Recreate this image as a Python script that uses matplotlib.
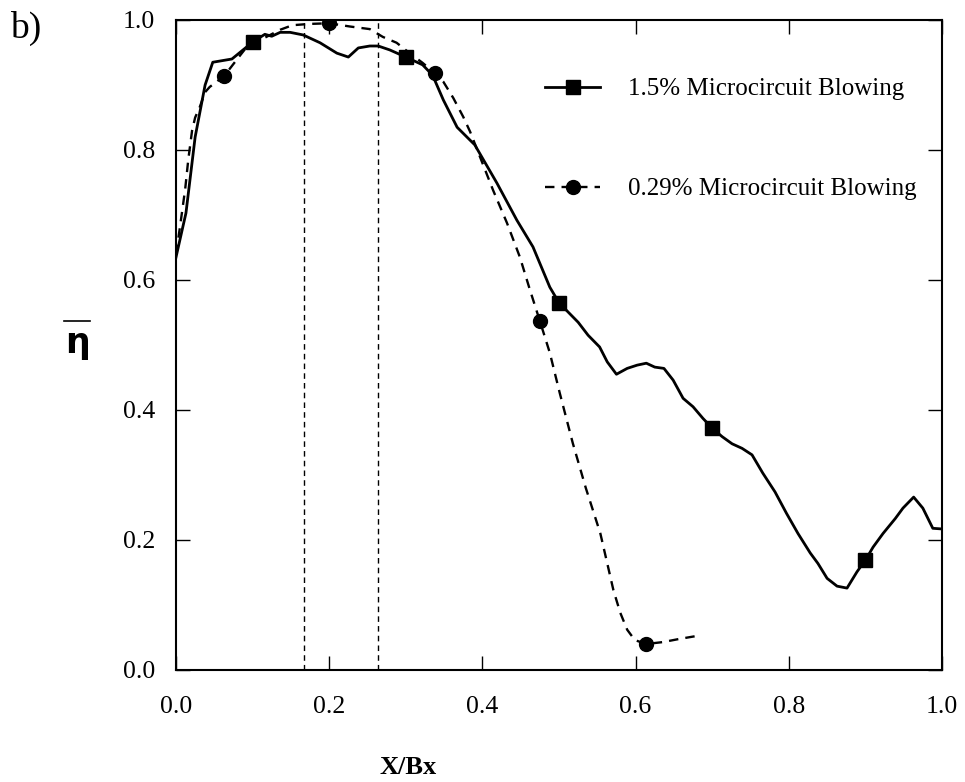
import numpy as np
import matplotlib.pyplot as plt
from matplotlib.lines import Line2D

# film effectiveness vs X/Bx, two blowing ratios
x_high = [0.0, 0.013, 0.025, 0.038, 0.048, 0.073, 0.10, 0.116, 0.125, 0.136, 0.149, 0.166,
          0.188, 0.21, 0.225, 0.238, 0.253, 0.264, 0.279, 0.30, 0.322, 0.335, 0.349, 0.367,
          0.384, 0.39, 0.419, 0.445, 0.466, 0.488, 0.50, 0.525, 0.538, 0.553, 0.563, 0.575,
          0.589, 0.602, 0.614, 0.625, 0.637, 0.649, 0.662, 0.675, 0.688, 0.701, 0.713, 0.726,
          0.739, 0.752, 0.766, 0.782, 0.797, 0.812, 0.828, 0.838, 0.85, 0.863, 0.876, 0.889,
          0.901, 0.91, 0.923, 0.939, 0.949, 0.963, 0.975, 0.988, 1.0]
eta_high = [0.635, 0.703, 0.82, 0.90, 0.935, 0.94, 0.966, 0.978, 0.975, 0.981, 0.981, 0.977,
            0.965, 0.949, 0.943, 0.957, 0.96, 0.96, 0.954, 0.943, 0.931, 0.915, 0.877, 0.835,
            0.815, 0.808, 0.749, 0.692, 0.651, 0.589, 0.565, 0.535, 0.515, 0.497, 0.474, 0.455,
            0.464, 0.469, 0.472, 0.466, 0.464, 0.446, 0.418, 0.405, 0.387, 0.371, 0.359, 0.348,
            0.341, 0.331, 0.303, 0.274, 0.241, 0.21, 0.18, 0.164, 0.141, 0.129, 0.126, 0.151,
            0.171, 0.189, 0.21, 0.233, 0.249, 0.266, 0.249, 0.218, 0.217]

x_low = [0.0, 0.005, 0.012, 0.016, 0.021, 0.025, 0.031, 0.038, 0.044, 0.063, 0.08, 0.092,
         0.118, 0.136, 0.152, 0.175, 0.20, 0.227, 0.253, 0.27, 0.288, 0.305, 0.322, 0.338,
         0.349, 0.362, 0.375, 0.384, 0.397, 0.414, 0.432, 0.449, 0.462, 0.475, 0.488, 0.501,
         0.518, 0.535, 0.554, 0.563, 0.571, 0.58, 0.589, 0.599, 0.614, 0.636, 0.658, 0.678]
eta_low = [0.64, 0.68, 0.74, 0.785, 0.83, 0.85, 0.866, 0.889, 0.897, 0.914, 0.94, 0.958,
           0.974, 0.985, 0.992, 0.994, 0.995, 0.99, 0.986, 0.974, 0.965, 0.949, 0.934, 0.918,
           0.905, 0.88, 0.851, 0.828, 0.789, 0.738, 0.688, 0.635, 0.585, 0.537, 0.488, 0.426,
           0.349, 0.28, 0.21, 0.164, 0.123, 0.088, 0.062, 0.046, 0.04, 0.043, 0.048, 0.052]

# marker locations along each curve
x_high_mk = [0.10, 0.30, 0.50, 0.70, 0.90]
x_low_mk = [0.063, 0.20, 0.338, 0.475, 0.614]

# bounds of the marked region
x_bounds = [0.167, 0.264]

label_high = "1.5% Microcircuit Blowing"
label_low = "0.29% Microcircuit Blowing"

plt.rcParams['font.family'] = ['Liberation Serif', 'DejaVu Serif']

fig = plt.figure(figsize=(9.65, 7.82), dpi=100)
ax = fig.add_axes([176 / 965, 1 - 670 / 782, 766 / 965, 650 / 782])

ax.plot(x_high, eta_high, color='black', lw=2.0, ls='-')
ax.plot(x_high_mk, np.interp(x_high_mk, x_high, eta_high), ls='none',
        marker='s', ms=10, color='black')
ax.plot(x_low, eta_low, color='black', lw=1.7, ls=(0, (4, 3)))
ax.plot(x_low_mk, np.interp(x_low_mk, x_low, eta_low), ls='none',
        marker='o', ms=10, color='black')

for xb in x_bounds:
    ax.axvline(xb, color='black', lw=1.0, ls=(0, (4, 3)))

ax.set_xlim(0, 1)
ax.set_ylim(0, 1)
ax.set_xticks(np.arange(0, 1.01, 0.2))
ax.set_yticks(np.arange(0, 1.01, 0.2))
ax.xaxis.set_major_formatter(plt.FormatStrFormatter('%.1f'))
ax.yaxis.set_major_formatter(plt.FormatStrFormatter('%.1f'))
ax.tick_params(direction='in', length=10, width=1, top=True, right=True,
               labelsize=18.5)
ax.tick_params(axis='x', pad=19)
ax.tick_params(axis='y', pad=15)
for sp in ax.spines.values():
    sp.set_linewidth(1.5)

handles = [
    Line2D([], [], color='black', lw=2.0, marker='s', ms=10),
    Line2D([], [], color='black', lw=1.7, ls=(0, (4, 3)), marker='o', ms=10),
]
ax.legend(handles, [label_high, label_low], loc='upper left',
          bbox_to_anchor=(0.482, 0.911), frameon=False, fontsize=18,
          handlelength=2.2, handletextpad=1.1, labelspacing=3.1,
          borderpad=0, borderaxespad=0)

fig.text(408 / 965, 1 - 768 / 782, 'X/Bx', ha='center', va='center',
         fontsize=19, fontweight='bold')
# y-axis symbol: eta with an overbar
fig.text(77 / 965, 1 - 343 / 782, '\u03b7', ha='center', va='center',
         fontsize=25, family='DejaVu Sans', fontweight='bold')
fig.add_artist(Line2D([64 / 965, 90 / 965], [1 - 321 / 782, 1 - 321 / 782],
                      color='black', lw=1.2))
fig.text(10 / 965, 1 - 28 / 782, 'b)', ha='left', va='center', fontsize=27)

fig.savefig('out.png', dpi=100)
